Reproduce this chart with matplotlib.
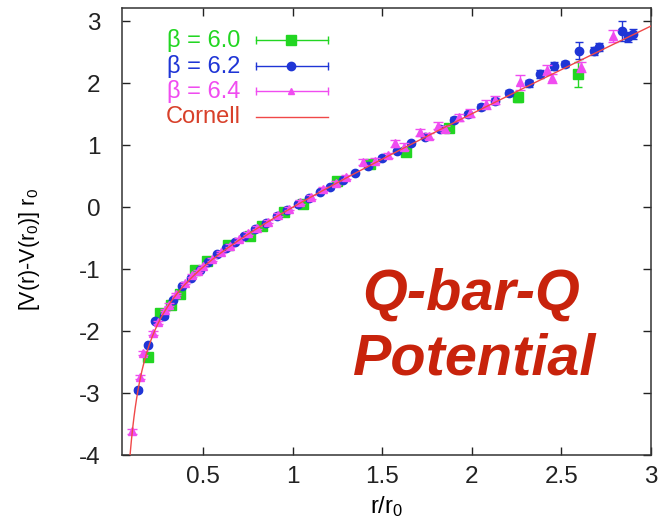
import numpy as np
import matplotlib
matplotlib.use("Agg")
import matplotlib.pyplot as plt

plt.rcParams['font.family'] = ['Liberation Sans', 'DejaVu Sans']
plt.rcParams['mathtext.default'] = 'regular'
plt.rcParams['axes.unicode_minus'] = False

# ---- data ----
labels = ["β = 6.0", "β = 6.2", "β = 6.4", "Cornell"]

x60 = [0.19, 0.26, 0.32, 0.37, 0.455, 0.52, 0.64, 0.76, 0.83, 0.95, 1.06, 1.25, 1.43, 1.63, 1.87, 2.26, 2.59]
y60 = [-2.42, -1.71, -1.58, -1.40, -1.02, -0.86, -0.61, -0.46, -0.30, -0.08, 0.06, 0.42, 0.70, 0.90, 1.28, 1.78, 2.15]
e60 = [0.05, 0.03, 0.03, 0.03, 0.03, 0.02, 0.02, 0.02, 0.02, 0.02, 0.02, 0.03, 0.03, 0.04, 0.05, 0.08, 0.20]

x62 = [0.137, 0.19, 0.23, 0.28, 0.33, 0.38, 0.43, 0.48, 0.53, 0.58, 0.63, 0.68, 0.73, 0.79, 0.85,
       0.91, 0.97, 1.03, 1.09, 1.15, 1.21, 1.28, 1.35, 1.42, 1.50, 1.58, 1.66, 1.74, 1.82, 1.90,
       1.98, 2.05, 2.13, 2.21, 2.32, 2.38, 2.46, 2.52, 2.60, 2.68, 2.71, 2.84, 2.87, 2.90]
y62 = [-2.95, -2.22, -1.84, -1.76, -1.50, -1.27, -1.14, -1.01, -0.88, -0.76, -0.66, -0.56, -0.46, -0.35, -0.25,
       -0.14, -0.04, 0.05, 0.15, 0.25, 0.32, 0.44, 0.55, 0.66, 0.79, 0.91, 1.03, 1.14, 1.27, 1.41,
       1.50, 1.62, 1.72, 1.84, 2.00, 2.15, 2.28, 2.31, 2.53, 2.52, 2.59, 2.85, 2.75, 2.80]
e62 = [0.03, 0.02, 0.02, 0.02, 0.02, 0.02, 0.02, 0.02, 0.02, 0.02, 0.02, 0.02, 0.02, 0.02, 0.02,
       0.02, 0.02, 0.02, 0.02, 0.02, 0.02, 0.02, 0.02, 0.03, 0.03, 0.03, 0.03, 0.03, 0.04, 0.04,
       0.04, 0.05, 0.05, 0.05, 0.06, 0.07, 0.06, 0.05, 0.14, 0.06, 0.06, 0.16, 0.08, 0.08]

x64 = [0.102, 0.148, 0.166, 0.22, 0.25, 0.29, 0.31, 0.35, 0.40, 0.44, 0.47, 0.50, 0.55, 0.60, 0.65,
       0.70, 0.75, 0.80, 0.86, 0.92, 0.98, 1.04, 1.10, 1.17, 1.24, 1.30, 1.39, 1.46, 1.53, 1.57,
       1.62, 1.71, 1.76, 1.81, 1.85, 1.93, 1.99, 2.08, 2.13, 2.27, 2.42, 2.45, 2.61, 2.79]
y64 = [-3.62, -2.74, -2.35, -2.03, -1.86, -1.66, -1.57, -1.40, -1.22, -1.10, -1.03, -0.95, -0.84, -0.72, -0.62,
       -0.52, -0.42, -0.33, -0.23, -0.12, -0.02, 0.08, 0.17, 0.29, 0.39, 0.49, 0.73, 0.75, 0.84, 1.03,
       0.98, 1.21, 1.15, 1.32, 1.27, 1.45, 1.52, 1.66, 1.73, 2.02, 2.21, 2.08, 2.26, 2.77]
e64 = [0.04, 0.03, 0.03, 0.03, 0.02, 0.02, 0.02, 0.02, 0.02, 0.02, 0.02, 0.02, 0.02, 0.02, 0.02,
       0.02, 0.02, 0.02, 0.02, 0.02, 0.02, 0.03, 0.03, 0.03, 0.03, 0.03, 0.05, 0.04, 0.04, 0.06,
       0.05, 0.06, 0.05, 0.06, 0.05, 0.06, 0.06, 0.07, 0.07, 0.12, 0.08, 0.07, 0.08, 0.10]

# Cornell fit parameters: [V(r)-V(r0)] r0 = (1.65 - e)(x - 1) + e (1 - 1/x)
cornell_e = 0.28
cornell_c = 1.65

xticks = [0.5, 1, 1.5, 2, 2.5, 3]
yticks = [-4, -3, -2, -1, 0, 1, 2, 3]

c_green = '#22d622'
c_blue = '#1f35d6'
c_mag = '#f04cf0'
c_red = '#f04848'
c_red_txt = '#d8402a'

fig = plt.figure(figsize=(6.69, 5.20), dpi=100)
ax = fig.add_axes([0.1831, 0.125, 0.9731 - 0.1831, 0.9837 - 0.125])

ax.errorbar(x60, y60, yerr=e60, fmt='s', color=c_green, ms=6.5, elinewidth=1.0,
            capsize=3, capthick=1.0, zorder=3)
ax.errorbar(x62, y62, yerr=e62, fmt='o', color=c_blue, ms=6, elinewidth=1.0,
            capsize=3, capthick=1.0, zorder=4)
ax.errorbar(x64, y64, yerr=e64, fmt='^', color=c_mag, ms=5.5, elinewidth=1.0,
            capsize=3.5, capthick=1.0, zorder=5)

xc = np.linspace(0.085, 3.0, 400)
yc = (cornell_c - cornell_e) * (xc - 1) + cornell_e * (1 - 1 / xc)
ax.plot(xc, yc, color=c_red, lw=1.0, zorder=6)

ax.set_xlim(0.05, 3.0)
ax.set_ylim(-4, 3.21)
ax.set_xticks(xticks)
ax.set_xticklabels([str(t) for t in xticks])
ax.set_yticks(yticks)
ax.set_yticklabels([str(t) for t in yticks])
ax.tick_params(direction='in', length=6, width=1.0, top=True, right=True, labelsize=17.5,
               colors='#222222')
ax.tick_params(axis='x', pad=8)
ax.tick_params(axis='y', pad=16)
for s in ax.spines.values():
    s.set_linewidth(1.1)
    s.set_color('#333333')

ax.set_xlabel('r/r$_0$', fontsize=17)
ax.set_ylabel('[V(r)-V(r$_0$)] r$_0$', fontsize=15.5)
ax.yaxis.set_label_coords(-0.152, 0.46)
ax.xaxis.set_label_coords(0.5, -0.088)

# legend, gnuplot style (label then sample)
rows_y = [0.929, 0.871, 0.815, 0.757]
cols = [c_green, c_blue, c_mag, c_red]
txtcols = [c_green, c_blue, c_mag, c_red_txt]
markers = ['s', 'o', '^', None]
msizes = [6.5, 6, 4.5, None]
for lab, yy, c, tc, m, msz in zip(labels, rows_y, cols, txtcols, markers, msizes):
    ax.text(0.223, yy, lab, transform=ax.transAxes, ha='right', va='center',
            color=tc, fontsize=17)
    ax.plot([0.253, 0.388], [yy, yy], color=c, lw=1.0, transform=ax.transAxes, clip_on=False)
    if m is not None:
        ax.plot([0.253, 0.388], [yy, yy], ls='none', marker='|', ms=6, mew=1.0, color=c,
                transform=ax.transAxes, clip_on=False)
        ax.plot([0.319], [yy], ls='none', marker=m, ms=msz, color=c,
                transform=ax.transAxes, clip_on=False)

fig.text(0.704, 0.404, 'Q-bar-Q', color='#c8230c', fontsize=41.5, fontweight='bold',
         fontstyle='italic', ha='center', va='baseline')
fig.text(0.709, 0.279, 'Potential', color='#c8230c', fontsize=41.5, fontweight='bold',
         fontstyle='italic', ha='center', va='baseline')

fig.savefig('out.png', dpi=100)
